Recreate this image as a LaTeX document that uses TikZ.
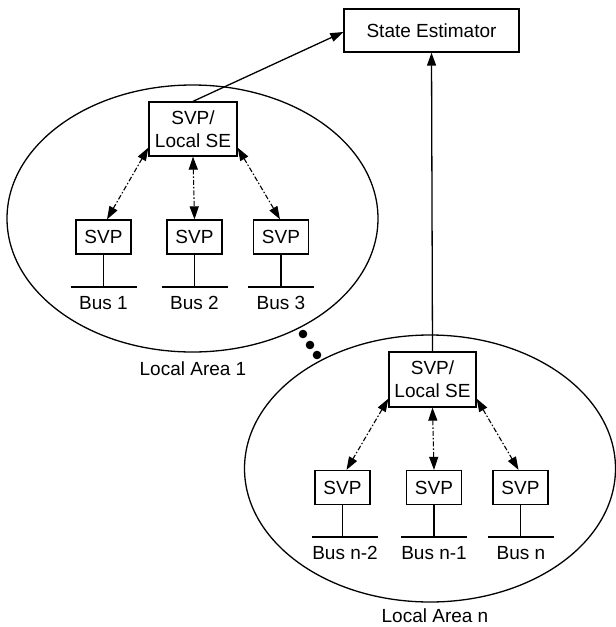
\documentclass[tikz,border=0pt]{standalone}
\usepackage{fontspec}
\setmainfont{Liberation Sans}
\usetikzlibrary{arrows.meta,calc,shapes.geometric}
\begin{document}
\begin{tikzpicture}[x=1pt,y=-1pt,
  >={Triangle[length=13pt,width=9pt]},
  lw/.style={line width=1.3pt},
  box/.style={draw, lw, inner sep=0pt, align=center,
    font=\fontsize{19}{23}\selectfont},
  svpbox/.style={box, minimum width=55pt, minimum height=34pt},
  sebox/.style={box, minimum width=88pt, minimum height=54pt},
  area/.style={draw, lw, ellipse, inner sep=0pt, minimum width=371pt, minimum height=267pt},
  lbl/.style={inner sep=0pt, anchor=base, font=\fontsize{19}{23}\selectfont},
  link/.style={line width=1.1pt, dash pattern=on 5pt off 2pt on 1.5pt off 2pt, <->},
  feed/.style={lw, ->},
  dot/.style={circle, fill, inner sep=0pt, minimum size=8.6pt}
]
\useasboundingbox (0,0) rectangle (616,627);

% areas
\node[area] (area1) at (192.5,218.5) {};
\node[area] (arean) at (430,468.5) {};
\node[lbl] (lab1) at (193,375) {Local Area 1};
\node[lbl] (labn) at (435,622.5) {Local Area n};

% state estimator
\node[box, minimum width=175pt, minimum height=43pt] (est) at (431.5,30.5) {State Estimator};

% area 1
\node[sebox] (se1) at (193,129) {SVP/\\Local SE};
\node[svpbox] (s11) at (103.5,237) {SVP};
\node[svpbox] (s12) at (194.5,237) {SVP};
\node[svpbox] (s13) at (281,237) {SVP};

% area n
\node[sebox, minimum width=87pt, minimum height=55pt] (sen) at (432.5,379.5) {SVP/\\Local SE};
\node[svpbox] (sn1) at (342.5,487.5) {SVP};
\node[svpbox] (sn2) at (434,487.5) {SVP};
\node[svpbox] (sn3) at (520.5,487.5) {SVP};

% buses area 1
\foreach \s/\x/\t in {s11/103.5/Bus 1, s12/194.5/Bus 2, s13/281/Bus 3}{
  \coordinate (\s L) at (\x-33,287);
  \coordinate (\s R) at (\x+33,287);
  \draw[lw] (\s L) -- (\s R);
  \draw[lw] (\s.south) -- (\s.south |- \s L);
  \node[lbl] (\s bus) at (\x,309) {\t};
}
% buses area n
\foreach \s/\x/\t in {sn1/345/Bus n-2, sn2/434/Bus n-1, sn3/521/Bus n}{
  \coordinate (\s L) at (\x-33,537);
  \coordinate (\s R) at (\x+33,537);
  \draw[lw] (\s L) -- (\s R);
  \draw[lw] (\s.south) -- (\s.south |- \s L);
  \node[lbl] (\s bus) at (\x,559) {\t};
}

% links area 1
\draw[link] ($(se1.south west)+(0,-9)$) -- ($(s11.north)+(3.5,0)$);
\draw[link] (se1.south) -- (s12.north);
\draw[link] ($(se1.south east)+(0,-9)$) -- ($(s13.north)+(-1,0)$);
% links area n
\draw[link] ($(sen.south west)+(0,-9)$) -- ($(sn1.north)+(4,0)$);
\draw[link] (sen.south) -- (sn2.north);
\draw[link] ($(sen.south east)+(0,-9)$) -- ($(sn3.north)+(-2,0)$);

% feeds to estimator
\draw[feed] (se1.north) -- ($(est.west)+(0,1.5)$);
\draw[feed] (sen.north) -- (est.south);

% dots
\node[dot] (d1) at (303,334) {};
\node[dot] (d2) at (310,345) {};
\node[dot] (d3) at (317,355) {};
\end{tikzpicture}
\end{document}
